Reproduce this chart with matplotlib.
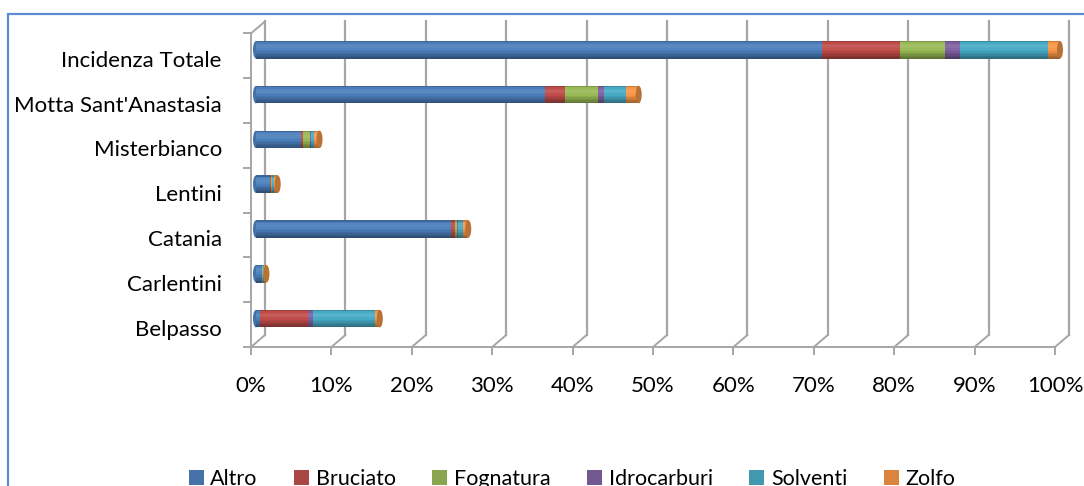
import matplotlib
matplotlib.use("Agg")
import matplotlib.pyplot as plt
import matplotlib.transforms as mtransforms
from matplotlib.patches import Ellipse, Patch, Rectangle
import matplotlib.colors as mcolors
import numpy as np

plt.rcParams['font.family'] = ['Lato', 'DejaVu Sans']

# data, bottom to top, percent of total
categories = ["Belpasso", "Carlentini", "Catania", "Lentini", "Misterbianco",
              "Motta Sant'Anastasia", "Incidenza Totale"]
series_names = ["Altro", "Bruciato", "Fognatura", "Idrocarburi", "Solventi", "Zolfo"]
altro = [0.5, 0.7, 24.3, 1.7, 5.6, 35.9, 70.4]
bruciato = [6.0, 0.1, 0.5, 0.15, 0.3, 2.5, 9.7]
fognatura = [0.0, 0.05, 0.2, 0.1, 0.8, 4.1, 5.6]
idrocarburi = [0.6, 0.05, 0.1, 0.05, 0.15, 0.8, 1.8]
solventi = [7.7, 0.1, 0.7, 0.2, 0.35, 2.7, 11.0]
zolfo = [0.6, 0.3, 0.6, 0.5, 0.7, 1.6, 1.5]
xticks = [0, 10, 20, 30, 40, 50, 60, 70, 80, 90, 100]

colors = ["#4a7ebb", "#be4b48", "#98b954", "#7d60a0", "#46aac5", "#f79646"]
legend_colors = ["#4572a7", "#aa4643", "#89a54e", "#71588f", "#4198af", "#db843d"]
grid_color = "#a6a6a6"

W, H = 1084, 486
fig = plt.figure(figsize=(W / 100, H / 100), dpi=100)
ax = fig.add_axes([251 / W, 1 - 347 / H, 804 / W, 313.6 / H])
ax.set_xlim(0, 100)
ax.set_ylim(-0.5, len(categories) - 0.5)

def shade(c, f):
    r, g, b = mcolors.to_rgb(c)
    if f < 1:
        return (r * f, g * f, b * f)
    f = f - 1
    return (r + (1 - r) * f, g + (1 - g) * f, b + (1 - b) * f)

# back wall / floor offset (3D depth)
ddx = 14 / 804 * 100
ddy = 12 / 44.8
for t in xticks:
    ax.plot([t + ddx, t + ddx], [-0.5 + ddy, 6.5 + ddy], color=grid_color, lw=1.6,
            clip_on=False, zorder=1)
    ax.plot([t, t + ddx], [-0.5, -0.5 + ddy], color=grid_color, lw=1.4,
            clip_on=False, zorder=1)
ax.plot([0, ddx], [6.5, 6.5 + ddy], color=grid_color, lw=1.4, clip_on=False, zorder=1)

# bars sit halfway into the depth
bar_off = ax.transData + mtransforms.ScaledTranslation(5 / 100, 6 / 100, fig.dpi_scale_trans)
h = 0.39
cap_w = 6 / 8.04
values = [altro, bruciato, fognatura, idrocarburi, solventi, zolfo]
y = np.arange(len(categories))
left = np.zeros(len(categories))

# cylinder shading, top to bottom
nstrip = 12
profile = np.interp(np.linspace(0, 1, nstrip), [0, 0.12, 0.3, 0.55, 0.8, 1.0],
                    [0.82, 1.05, 1.1, 1.0, 0.8, 0.64])

# rounded left ends
for yi in y:
    e = Ellipse((0, yi), cap_w, h, color=shade(colors[0], 0.9), transform=bar_off,
                zorder=3, clip_on=False, linewidth=0)
    ax.add_patch(e)

for vals, c in zip(values, colors):
    vals = np.array(vals)
    for k, f in enumerate(profile):
        top = 0.5 - k / nstrip
        bars = ax.barh(y + (top - 0.5 / nstrip) * h, vals, left=left,
                       height=h / nstrip * 1.15, color=shade(c, f), linewidth=0, zorder=4)
        for p in bars:
            p.set_transform(bar_off)
            p.set_clip_on(False)
    left = left + vals

# right end caps
for yi, end in zip(y, left):
    e = Ellipse((end, yi), cap_w, h, color=shade(colors[-1], 0.75), transform=bar_off,
                zorder=5, clip_on=False, linewidth=0)
    ax.add_patch(e)

for s in ["top", "right"]:
    ax.spines[s].set_visible(False)
for s in ["left", "bottom"]:
    ax.spines[s].set_color(grid_color)
    ax.spines[s].set_linewidth(1.4)

ax.set_xticks(xticks)
ax.set_xticklabels([f"{t}%" for t in xticks], fontsize=16)
ax.tick_params(axis="x", length=6, color=grid_color, width=1.4, pad=15)
ax.set_yticks(y)
ax.set_yticklabels(categories, fontsize=16)
ax.set_yticks(np.arange(-0.5, len(categories)), minor=True)
ax.tick_params(axis="y", which="major", length=0, pad=21)
ax.tick_params(axis="y", which="minor", length=6, color=grid_color, width=1.4)
for lab in ax.get_yticklabels():
    lab.set_transform(lab.get_transform() +
                      mtransforms.ScaledTranslation(0, -3 / 100, fig.dpi_scale_trans))

handles = [Patch(facecolor=c, edgecolor="none") for c in legend_colors]
fig.legend(handles, series_names, loc="center", bbox_to_anchor=(572 / W, 1 - 479 / H),
           ncol=6, frameon=False, fontsize=15.5, handlelength=0.7, handleheight=0.7,
           handletextpad=0.3, columnspacing=1.7)

fig.patches.append(Rectangle((8 / W, -0.1), 1.2, 1.1 - 14 / H, fill=False,
                             edgecolor="#5b8bd1", linewidth=1.6, transform=fig.transFigure))

fig.savefig("out.png", dpi=100)
